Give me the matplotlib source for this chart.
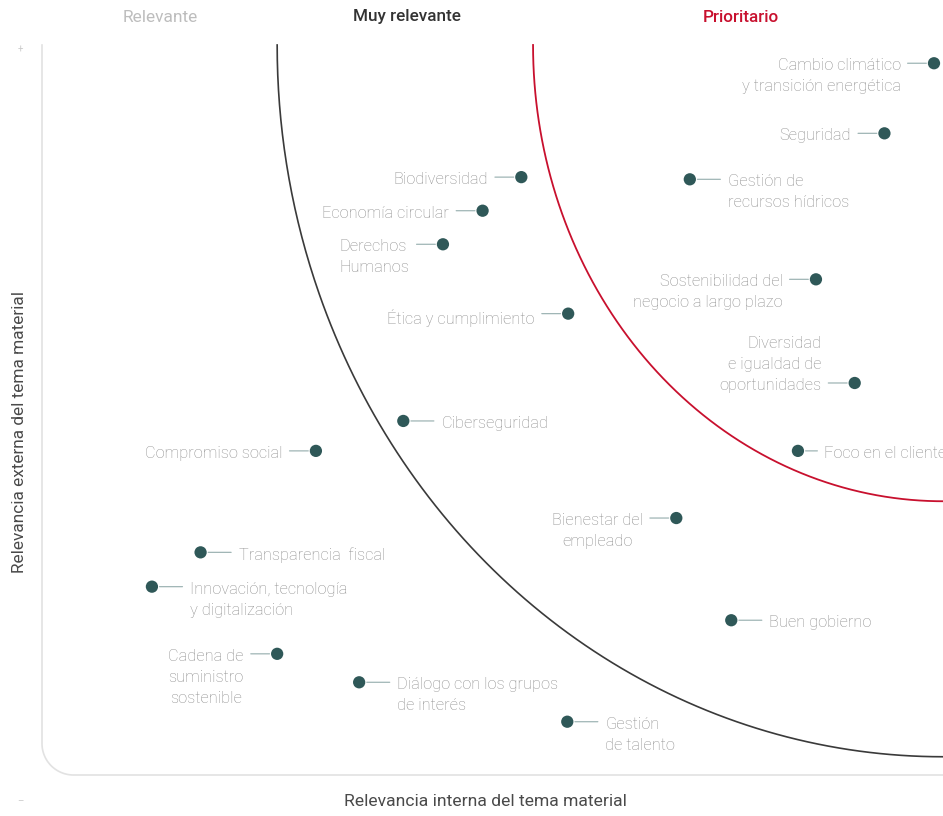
import matplotlib
matplotlib.use("Agg")
import matplotlib.pyplot as plt
import numpy as np

# ---------------- data ----------------
topics = [
    "Cambio climático\ny transición energética",
    "Seguridad",
    "Gestión de\nrecursos hídricos",
    "Biodiversidad",
    "Economía circular",
    "Derechos\nHumanos",
    "Sostenibilidad del\nnegocio a largo plazo",
    "Ética y cumplimiento",
    "Diversidad\ne igualdad de\noportunidades",
    "Ciberseguridad",
    "Compromiso social",
    "Foco en el cliente",
    "Bienestar del\nempleado",
    "Transparencia  fiscal",
    "Innovación, tecnología\ny digitalización",
    "Buen gobierno",
    "Cadena de\nsuministro\nsostenible",
    "Diálogo con los grupos\nde interés",
    "Gestión\nde talento",
]
internal = [99.0, 93.5, 71.9, 53.2, 48.9, 44.5, 85.9, 58.4, 90.2, 40.1,
            30.4, 83.9, 70.4, 17.6, 12.2, 76.5, 26.1, 35.2, 58.3]
external = [97.5, 87.9, 81.6, 81.9, 77.3, 72.7, 67.9, 63.2, 53.7, 48.5,
            44.4, 44.4, 35.2, 30.5, 25.8, 21.2, 16.6, 12.7, 7.3]

# label placement (style only)
side = ["L", "L", "R", "L", "L", "L", "L", "L", "L", "R",
        "L", "R", "L", "R", "R", "R", "L", "R", "R"]
anchor = ["first"] * 19
anchor[8] = "last"
malign = ["right", "right", "left", "right", "right", "left", "right", "right", "right", "left",
          "right", "left", "center", "left", "left", "left", "center", "left", "left"]
short_conn = [False] * 19
short_conn[11] = True

zone_labels = ["Relevante", "Muy relevante", "Prioritario"]
xlabel = "Relevancia interna del tema material"
ylabel = "Relevancia externa del tema material"

# ---------------- figure ----------------
W, H = 943, 816
fig = plt.figure(figsize=(W / 100, H / 100), dpi=100)
fig.patch.set_facecolor("white")
L, R, B, T = 42, 943, 775, 45
ax = fig.add_axes([L / W, (H - B) / H, (R - L) / W, (B - T) / H])
ax.set_xlim(0, 100)
ax.set_ylim(0, 100)
ax.axis("off")

FONT = "Roboto"
dot_col = "#2f5858"
line_col = "#9fb5b5"
txt_col = "#8e8e8e"
red = "#c8102e"
FS = 11.8

# frame with rounded bottom-left corner
frame_col = "#e2e2e2"
rr_x, rr_y = 3.5, 4.3
t = np.linspace(np.pi, 1.5 * np.pi, 40)
fx = np.concatenate([[0, 0], rr_x + rr_x * np.cos(t), [100]])
fy = np.concatenate([[100, rr_y], rr_y + rr_y * np.sin(t), [0]])
ax.plot(fx, fy, color=frame_col, lw=1.2, clip_on=False, zorder=1)

# zone arcs (quarter ellipses centered at top-right corner)
th = np.linspace(np.pi, 1.5 * np.pi, 300)
ax.plot(100 + 73.9 * np.cos(th), 100 + 97.5 * np.sin(th), color="#3a3a3a", lw=1.2,
        clip_on=False, zorder=2)
ax.plot(100 + 45.5 * np.cos(th), 100 + 62.5 * np.sin(th), color=red, lw=1.3,
        clip_on=False, zorder=2)

# points, connectors and labels
ax.scatter(internal, external, s=78, color=dot_col, zorder=5, clip_on=False,
           edgecolors="none")
for i, lab in enumerate(topics):
    x, y = internal[i], external[i]
    if side[i] == "L":
        sgn, conn, toff = -1, 19, 24
    else:
        sgn, conn, toff = 1, 22, 27.5
    if short_conn[i]:
        conn, toff = 14, 18.5
    ax.annotate("", xy=(x, y), xytext=(sgn * conn, 0), textcoords="offset points",
                arrowprops=dict(arrowstyle="-", color=line_col, lw=0.9,
                                shrinkA=0, shrinkB=5.5), zorder=4)
    if anchor[i] == "first":
        va, dy = "top", 0.31 * FS
    else:
        va, dy = "bottom", -0.62 * FS
    ax.annotate(lab, xy=(x, y), xytext=(sgn * toff, dy), textcoords="offset points",
                ha="right" if sgn < 0 else "left", va=va, multialignment=malign[i],
                fontsize=FS, color=txt_col, family=FONT, fontweight="light",
                linespacing=1.5, annotation_clip=False, zorder=6)

# zone headers
fig.text(160 / W, 1 - 17 / H, zone_labels[0], ha="center", va="center",
         fontsize=12.5, color="#bdbdbd", family=FONT)
fig.text(407 / W, 1 - 17 / H, zone_labels[1], ha="center", va="center",
         fontsize=12.3, color="#333333", family=FONT, fontweight="medium")
fig.text(741 / W, 1 - 17 / H, zone_labels[2], ha="center", va="center",
         fontsize=12.3, color=red, family=FONT, fontweight="medium")

# axis titles
fig.text(485 / W, 1 - 801 / H, xlabel, ha="center", va="center",
         fontsize=12.6, color="#4a4a4a", family=FONT)
fig.text(20 / W, 1 - 432 / H, ylabel, ha="center", va="center", rotation=90,
         fontsize=12.4, color="#4a4a4a", family=FONT)

# small +/- markers
fig.text(20 / W, 1 - 50 / H, "+", ha="center", va="center", fontsize=7,
         color="#cccccc", family=FONT)
fig.text(20 / W, 1 - 801 / H, "–", ha="center", va="center", fontsize=7,
         color="#cccccc", family=FONT)

fig.savefig("out.png", dpi=100, facecolor="white")
